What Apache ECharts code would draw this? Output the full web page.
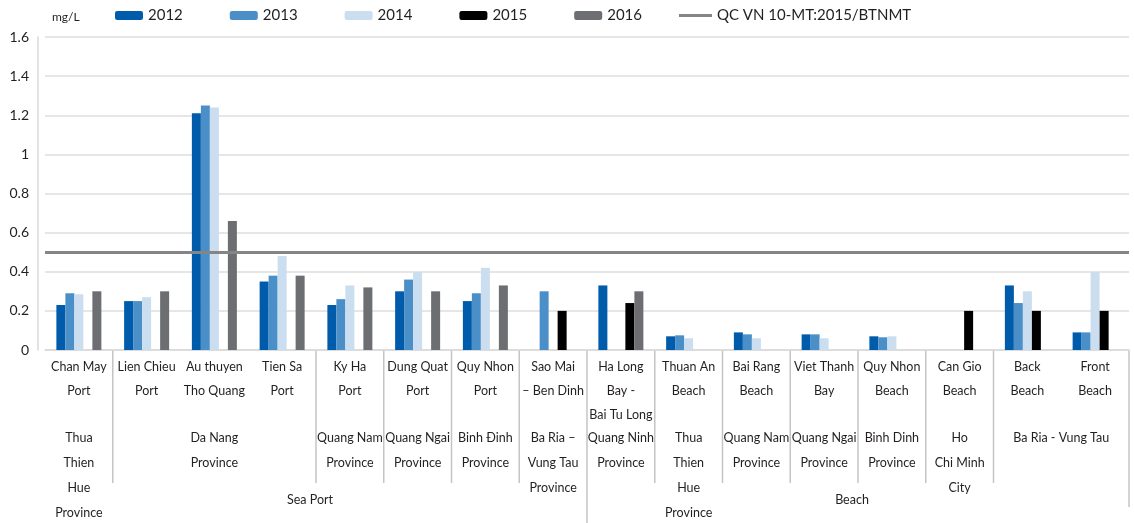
<!DOCTYPE html>
<html>
<head>
<meta charset="utf-8">
<script src="https://cdn.jsdelivr.net/npm/echarts@6/dist/echarts.min.js"></script>
<style>
  html, body { margin: 0; padding: 0; background: #fff; }
  #main { width: 1134px; height: 523px; }
</style>
</head>
<body>
<div id="main"></div>
<script>
// monitoring sites (x axis, first level)
var sites = ['Chan May\nPort', 'Lien Chieu\nPort', 'Au thuyen\nTho Quang', 'Tien Sa\nPort',
  'Ky Ha\nPort', 'Dung Quat\nPort', 'Quy Nhon\nPort', 'Sao Mai\n– Ben Dinh',
  'Ha Long\nBay -\nBai Tu Long', 'Thuan An\nBeach', 'Bai Rang\nBeach', 'Viet Thanh\nBay',
  'Quy Nhon\nBeach', 'Can Gio\nBeach', 'Back\nBeach', 'Front\nBeach'];

// second level: provinces, with first / last site index
var provinceNames = ['Thua\nThien\nHue\nProvince', 'Da Nang\nProvince', 'Quang Nam\nProvince',
  'Quang Ngai\nProvince', 'Binh Đinh\nProvince', 'Ba Ria –\nVung Tau\nProvince',
  'Quang Ninh\nProvince', 'Thua\nThien\nHue\nProvince', 'Quang Nam\nProvince',
  'Quang Ngai\nProvince', 'Binh Dinh\nProvince', 'Ho\nChi Minh\nCity', 'Ba Ria - Vung Tau'];
var provinceFirst = [0, 1, 4, 5, 6, 7, 8, 9, 10, 11, 12, 13, 14];
var provinceLast  = [0, 3, 4, 5, 6, 7, 8, 9, 10, 11, 12, 13, 15];

// third level: site type
var groupNames = ['Sea Port', 'Beach'];
var groupFirst = [0, 8];
var groupLast  = [7, 15];

var years = ['2012', '2013', '2014', '2015', '2016'];
var v2012 = [0.23, 0.25, 1.21, 0.35, 0.23, 0.30, 0.25, null, 0.33, 0.07, 0.09, 0.08, 0.07, null, 0.33, 0.09];
var v2013 = [0.29, 0.25, 1.25, 0.38, 0.26, 0.36, 0.29, 0.30, null, 0.075, 0.08, 0.08, 0.065, null, 0.24, 0.09];
var v2014 = [0.285, 0.27, 1.24, 0.48, 0.33, 0.40, 0.42, null, null, 0.06, 0.06, 0.06, 0.07, null, 0.30, 0.40];
var v2015 = [null, null, null, null, null, null, null, 0.20, 0.24, null, null, null, null, 0.20, 0.20, 0.20];
var v2016 = [0.30, 0.30, 0.66, 0.38, 0.32, 0.30, 0.33, null, 0.30, null, null, null, null, null, null, null];

var standardName = 'QC VN 10-MT:2015/BTNMT';
var standardValue = 0.5;

var colors = ['#005bab', '#4a8fc8', '#cadef0', '#000000', '#6d6e71'];
var lineColor = '#858585';
var font = 'Lato, Roboto, sans-serif';
var textColor = '#231f20';

var chart = echarts.init(document.getElementById('main'));

var barSeries = [v2012, v2013, v2014, v2015, v2016].map(function (vals, i) {
  return {
    name: years[i],
    type: 'bar',
    data: vals,
    barWidth: 9,
    barGap: '0%',
    itemStyle: { color: colors[i] }
  };
});

chart.setOption({
  animation: false,
  textStyle: { fontFamily: font, color: textColor },
  legend: [{
    left: 115,
    top: 8,
    padding: 0,
    itemWidth: 28,
    itemHeight: 9,
    itemGap: 47,
    textStyle: { fontSize: 15, color: textColor, fontFamily: font },
    data: years
  }, {
    left: 679,
    top: 8,
    padding: 0,
    icon: 'rect',
    itemWidth: 33,
    itemHeight: 3,
    textStyle: { fontSize: 15, color: textColor, fontFamily: font },
    data: [standardName]
  }],
  grid: { left: 45, right: 5, top: 37, bottom: 173 },
  xAxis: {
    type: 'category',
    data: sites,
    axisLine: { lineStyle: { color: '#d9d9d9', width: 1.5 } },
    axisTick: { show: false },
    axisLabel: {
      interval: 0,
      margin: 5,
      fontSize: 12.5,
      lineHeight: 24,
      color: textColor,
      fontFamily: font
    }
  },
  yAxis: {
    type: 'value',
    min: 0,
    max: 1.6,
    interval: 0.2,
    offset: 7,
    name: 'mg/L',
    nameLocation: 'end',
    nameGap: 14,
    nameTextStyle: { fontSize: 12, color: textColor, align: 'left', padding: [0, 0, 0, 14] },
    axisLine: { show: true, lineStyle: { color: '#d9d9d9', width: 1.5 } },
    axisTick: { show: false },
    axisLabel: { fontSize: 14, margin: 9, color: textColor },
    splitLine: { lineStyle: { color: '#dedede', width: 1.5 } }
  },
  series: barSeries.concat([{
    name: standardName,
    type: 'line',
    data: [],
    symbol: 'none',
    lineStyle: { color: lineColor, width: 3 },
    itemStyle: { color: lineColor },
    markLine: {
      silent: true,
      symbol: 'none',
      label: { show: false },
      lineStyle: { color: lineColor, width: 3, type: 'solid' },
      data: [{ yAxis: standardValue }]
    }
  }])
});

// multi-level axis: separators and group labels placed through the axis scale
function cx(i) { return chart.convertToPixel({ xAxisIndex: 0 }, i); }
var band = cx(1) - cx(0);
var axisY = chart.convertToPixel({ yAxisIndex: 0 }, 0);

var graphics = [];
function vline(x, y2) {
  graphics.push({
    type: 'line', silent: true,
    shape: { x1: x, y1: axisY, x2: x, y2: y2 },
    style: { stroke: '#c4c4c4', lineWidth: 1.5 }
  });
}
function label(text, x, y) {
  graphics.push({
    type: 'text', silent: true, x: x, y: y,
    style: { text: text, fill: textColor, fontSize: 12.5, fontFamily: font,
      lineHeight: 25, align: 'center', verticalAlign: 'top' }
  });
}

provinceNames.forEach(function (name, k) {
  var mid = (cx(provinceFirst[k]) + cx(provinceLast[k])) / 2;
  label(name, mid, axisY + 75);
  var right = cx(provinceLast[k]) + band / 2;
  var isGroupEnd = groupLast.indexOf(provinceLast[k]) >= 0;
  if (!isGroupEnd) vline(right, axisY + 133);
});
groupNames.forEach(function (name, g) {
  var mid = (cx(groupFirst[g]) + cx(groupLast[g])) / 2;
  label(name, mid - 6, axisY + 137);
  var right = cx(groupLast[g]) + band / 2;
  if (g < groupNames.length - 1) vline(right, axisY + 173);
  else vline(right, axisY + 157);
});

chart.setOption({ graphic: graphics });
</script>
</body>
</html>
